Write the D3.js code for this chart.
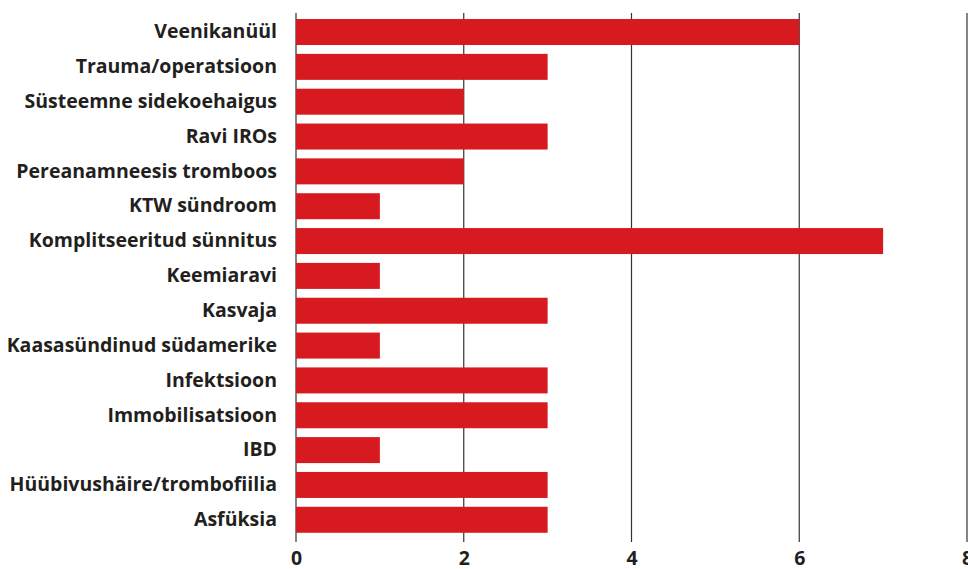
<!DOCTYPE html>
<html><head><meta charset="utf-8">
<script src="https://cdn.jsdelivr.net/npm/d3@7"></script>
<style>body{margin:0;background:#fff}svg{display:block}</style>
</head><body>
<svg id="c" width="968" height="569"></svg>
<script>
const categories = ["Veenikanüül","Trauma/operatsioon","Süsteemne sidekoehaigus","Ravi IROs","Pereanamneesis tromboos","KTW sündroom","Komplitseeritud sünnitus","Keemiaravi","Kasvaja","Kaasasündinud südamerike","Infektsioon","Immobilisatsioon","IBD","Hüübivushäire/trombofiilia","Asfüksia"];
const values = [6,3,2,3,2,1,7,1,3,1,3,3,1,3,3];
const tickValues = [0,2,4,6,8];

const svg = d3.select("#c");
const x = d3.scaleLinear().domain([0,8]).range([296,967]);
const y = d3.scaleBand().domain(categories).range([14.6,537.2]).paddingInner(0.254).paddingOuter(0.127);
const font = "'Open Sans', sans-serif";

svg.append("g").selectAll("line").data(tickValues).join("line")
  .attr("x1",d=>x(d)).attr("x2",d=>x(d)).attr("y1",13).attr("y2",542)
  .attr("stroke","#333").attr("stroke-width",1.2);

svg.append("g").selectAll("rect").data(values).join("rect")
  .attr("x",x(0)).attr("y",(d,i)=>y(categories[i]))
  .attr("width",d=>x(d)-x(0)).attr("height",y.bandwidth())
  .attr("fill","#d71920");

const ya = svg.append("g").attr("transform","translate(296,0)").call(d3.axisLeft(y).tickSize(0).tickPadding(19));
ya.select(".domain").remove();
ya.selectAll("text").attr("font-family",font).attr("font-weight","bold").attr("font-size",19.5).attr("fill","#231f20");

const xa = svg.append("g").attr("transform","translate(0,548)").call(d3.axisBottom(x).tickValues(tickValues).tickSize(0).tickPadding(3));
xa.select(".domain").remove();
xa.selectAll("text").attr("font-family",font).attr("font-weight","bold").attr("font-size",19.5).attr("fill","#231f20");
</script>
</body></html>
